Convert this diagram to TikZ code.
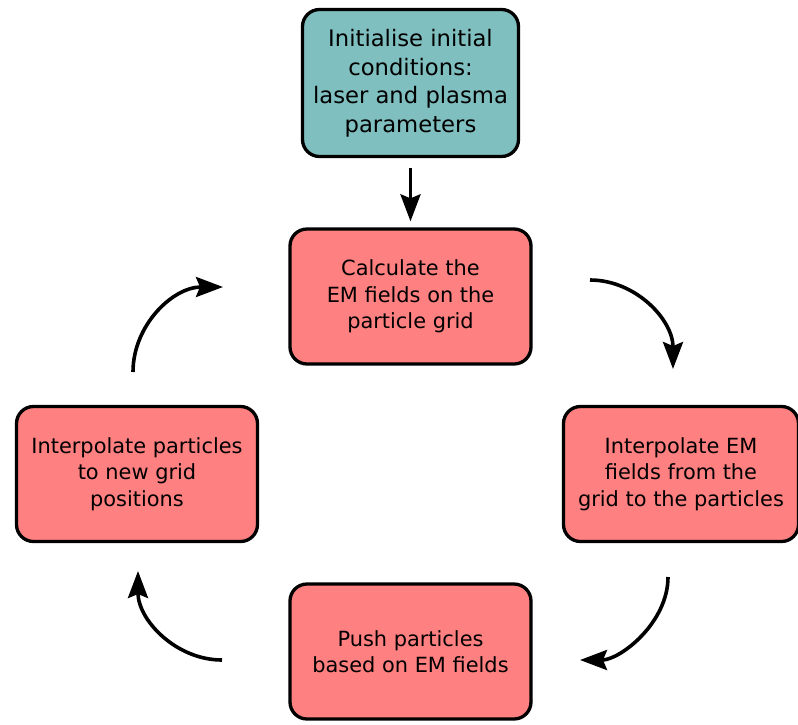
\documentclass[tikz,border=0pt]{standalone}
\usepackage{fontspec}
\setmainfont{DejaVu Sans}
\usetikzlibrary{arrows.meta}
\definecolor{tealbox}{HTML}{80BFBF}
\definecolor{pinkbox}{HTML}{FF8080}
\begin{document}
\begin{tikzpicture}[x=1pt,y=-1pt,
  box/.style={draw=black, line width=3.3pt, rounded corners=17pt, inner sep=0pt, align=center},
  stepbox/.style={box, fill=pinkbox, minimum width=241pt, minimum height=135pt,
    font=\fontsize{20.9}{26.5}\selectfont},
  arr/.style={line width=3.6pt, -{Stealth[length=27pt,width=20pt,inset=4pt]}}]
\useasboundingbox (0,0) rectangle (798,724);
\node[box, fill=tealbox, minimum width=216pt, minimum height=147pt,
  font=\fontsize{22.7}{28.5}\selectfont] (init) at (410.5,83)
  {Initialise initial\\conditions:\\laser and plasma\\parameters};
\node[stepbox] (calc) at (410.5,296.5) {Calculate the\\EM fields on the\\particle grid};
\node[stepbox, minimum width=235pt] (interp) at (681,474) {Interpolate EM\\fields from the\\grid to the particles};
\node[stepbox] (push) at (410.5,651.5) {Push particles\\based on EM fields};
\node[stepbox] (grid) at (137,474) {Interpolate particles\\to new grid\\positions};
\draw[arr, shorten <=10pt, shorten >=6pt] (init.south) -- (calc.north);
\coordinate (a1s) at (590,280); \coordinate (a1e) at (673,369);
\coordinate (a2s) at (668,577); \coordinate (a2e) at (580,660);
\coordinate (a3s) at (222,660); \coordinate (a3e) at (138,571);
\coordinate (a4s) at (133,372); \coordinate (a4e) at (223,287);
\draw[arr] (a1s) .. controls (636,280) and (673,320) .. (a1e);
\draw[arr] (a2s) .. controls (668,623) and (620,660) .. (a2e);
\draw[arr] (a3s) .. controls (176,660) and (138,620) .. (a3e);
\draw[arr] (a4s) .. controls (133,325) and (173,287) .. (a4e);
\end{tikzpicture}
\end{document}
